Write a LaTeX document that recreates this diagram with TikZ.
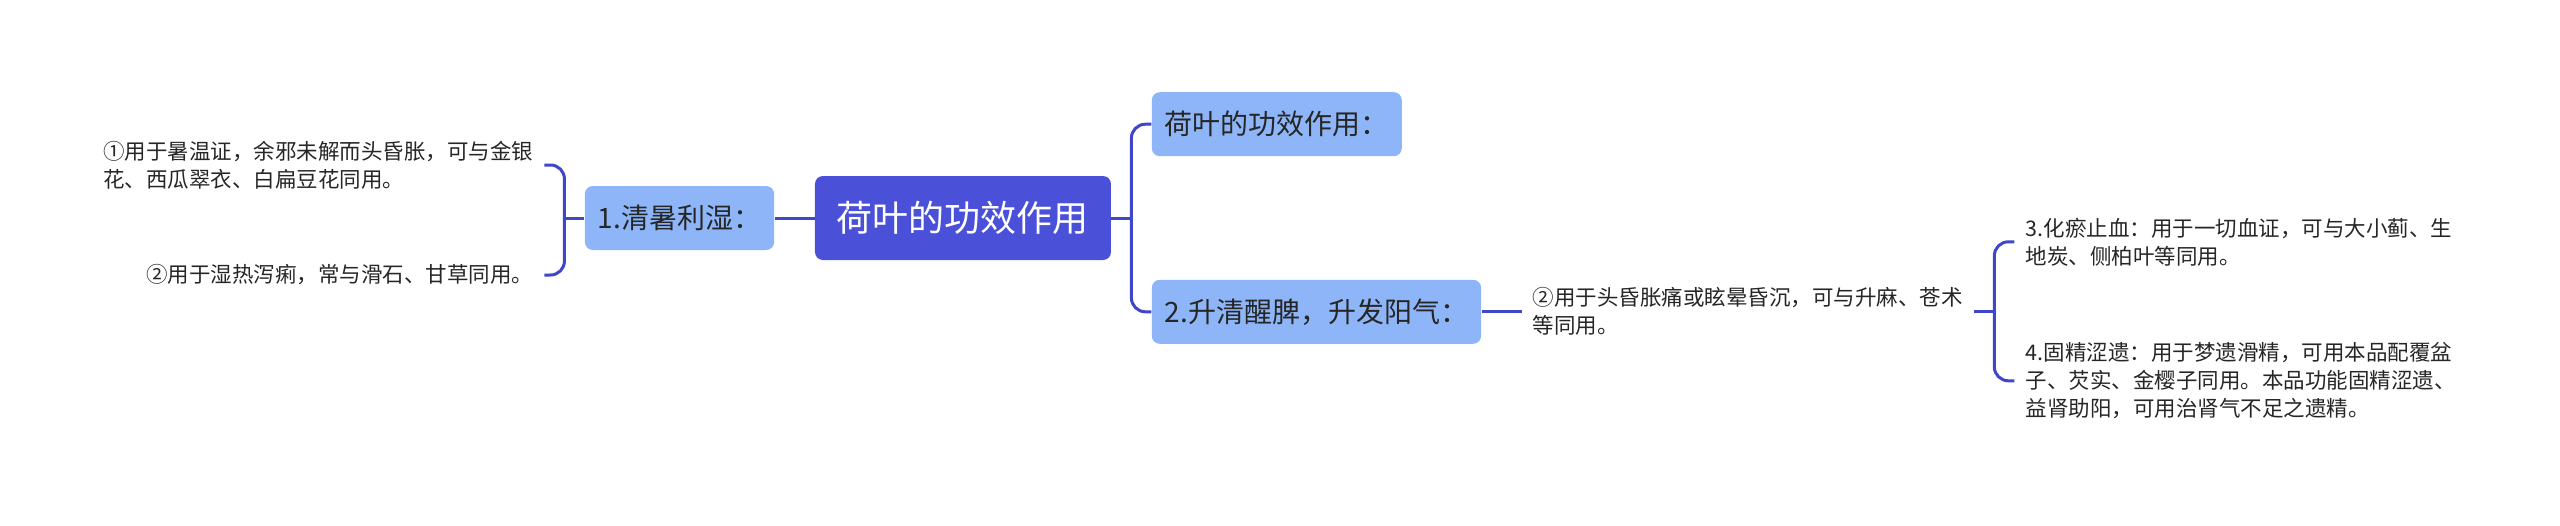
\documentclass[tikz,border=0pt]{standalone}
\usepackage{fontspec}
\setmainfont{Noto Sans CJK SC}
\usepackage{xcolor}
\usepackage{tikz}
\usetikzlibrary{positioning}
\definecolor{hyink}{HTML}{262626}
\definecolor{hyroot}{HTML}{4A50D8}
\definecolor{hybranch}{HTML}{8DB5F8}
\definecolor{hyline}{HTML}{3F46C8}
\tikzset{
  rootnode/.style={rectangle,rounded corners=4pt,fill=hyroot,minimum height=42pt,
                   inner xsep=11pt,font=\fontsize{18}{22}\selectfont,text=white},
  branch/.style={rectangle,rounded corners=4pt,fill=hybranch,minimum height=32pt,
                 inner xsep=6.5pt,font=\fontsize{14}{17}\selectfont,text=hyink},
  leaf/.style={inner xsep=5.5pt,inner ysep=2pt,align=left,
               font=\fontsize{10.75}{14}\selectfont,text=hyink},
  link/.style={draw=hyline,line width=1.5pt},
  brace/.style={link,rounded corners=7pt},
}

\begin{document}
\begin{tikzpicture}
\useasboundingbox (-481.5pt,-153.5pt) rectangle (798.5pt,109pt);
\node[rootnode] (root) {荷叶的功效作用};
\node[branch,left=20pt of root]                   (qing)  {1.清暑利湿：};
\node[branch,above right=9.5pt and 20pt of root]  (gong)  {荷叶的功效作用：};
\node[branch,below right=9.5pt and 20pt of root]  (sheng) {2.升清醒脾，升发阳气：};
\node[leaf,left=20pt of qing,yshift=26.5pt]  (shu) {①用于暑温证，余邪未解而头昏胀，可与金银\\花、西瓜翠衣、白扁豆花同用。};
\node[leaf,left=20pt of qing,yshift=-28.5pt] (shi) {②用于湿热泻痢，常与滑石、甘草同用。};
\node[leaf,right=20pt of sheng]              (tou) {②用于头昏胀痛或眩晕昏沉，可与升麻、苍术\\等同用。};
\node[leaf,right=20pt of tou,yshift=35pt]    (hua) {3.化瘀止血：用于一切血证，可与大小蓟、生\\地炭、侧柏叶等同用。};
\node[leaf,right=20pt of tou,yshift=-34.5pt] (gu)  {4.固精涩遗：用于梦遗滑精，可用本品配覆盆\\子、芡实、金樱子同用。本品功能固精涩遗、\\益肾助阳，可用治肾气不足之遗精。};
\draw[link] (root) -- (qing);
\draw[link] (qing.west) -- ++(-10pt,0) coordinate (lj);
\draw[brace] (shu.east) -| (lj) |- (shi.east);
\draw[link] (root.east) -- ++(10pt,0) coordinate (rj);
\draw[brace] (gong.west) -| (rj) |- (sheng.west);
\draw[link] (sheng.east) -- (sheng.east -| tou.west);
\draw[link] (tou.east) -- ++(10pt,0) coordinate (tj);
\draw[brace] (hua.west) -| (tj) |- (gu.west);
\end{tikzpicture}
\end{document}
